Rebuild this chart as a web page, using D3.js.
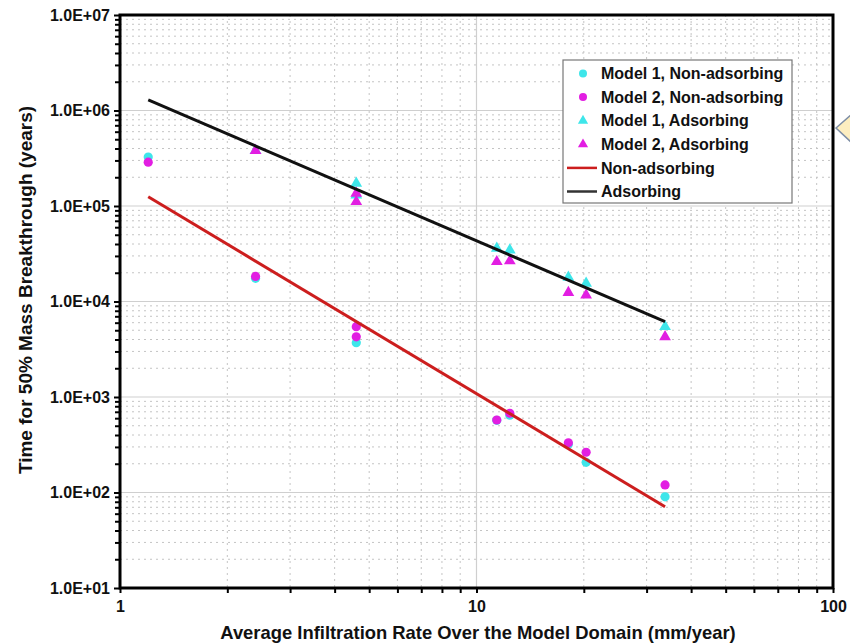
<!DOCTYPE html>
<html>
<head>
<meta charset="utf-8">
<script src="https://cdn.jsdelivr.net/npm/d3@7"></script>
<style>
  html, body { margin: 0; padding: 0; background: #fff; }
  svg { display: block; font-family: "Liberation Sans", Arial, sans-serif; font-weight: bold; }
</style>
</head>
<body>
<svg id="chart" width="850" height="644"></svg>
<script>
// Infiltration rate (mm/year) and time to 50% mass breakthrough (years)
const m1NonAdsRate = [1.2, 2.4, 4.6, 11.4, 12.4, 18.1, 20.3, 33.8];
const m1NonAdsTime = [3.25e5, 1.75e4, 3.7e3, 570, 645, 320, 207, 90];

const m2NonAdsRate = [1.2, 2.4, 4.6, 4.6, 11.4, 12.4, 18.1, 20.3, 33.8];
const m2NonAdsTime = [2.88e5, 1.83e4, 5.45e3, 4.27e3, 574, 676, 331, 264, 120];

const m1AdsRate = [2.4, 4.6, 4.6, 11.4, 12.4, 18.1, 20.3, 33.8];
const m1AdsTime = [3.8e5, 1.73e5, 1.3e5, 3.6e4, 3.46e4, 1.79e4, 1.55e4, 5.45e3];

const m2AdsRate = [2.4, 4.6, 4.6, 11.4, 12.4, 18.1, 20.3, 33.8];
const m2AdsTime = [3.8e5, 1.36e5, 1.11e5, 2.61e4, 2.66e4, 1.24e4, 1.17e4, 4.27e3];

// Power-law fit lines (end points)
const fitNonAdsRate = [1.2, 33.8];
const fitNonAdsTime = [1.25e5, 71];
const fitAdsRate = [1.2, 33.8];
const fitAdsTime = [1.29e6, 6.15e3];

const yTickValues = [1e1, 1e2, 1e3, 1e4, 1e5, 1e6, 1e7];
const yTickLabels = ["1.0E+01", "1.0E+02", "1.0E+03", "1.0E+04", "1.0E+05", "1.0E+06", "1.0E+07"];
const xTickValues = [1, 10, 100];
const xTickLabels = ["1", "10", "100"];

const legendLabels = ["Model 1, Non-adsorbing", "Model 2, Non-adsorbing", "Model 1, Adsorbing",
                      "Model 2, Adsorbing", "Non-adsorbing", "Adsorbing"];

const xTitle = "Average Infiltration Rate Over the Model Domain (mm/year)";
const yTitle = "Time for 50% Mass Breakthrough (years)";

const CYAN = "#3ee6ea", MAGENTA = "#e21ee2", RED = "#cc1e1e", BLACK = "#111";

const svg = d3.select("#chart");
const margin = {left: 120, top: 15, right: 17, bottom: 56};
const W = 850 - margin.left - margin.right;
const H = 644 - margin.top - margin.bottom;

const x = d3.scaleLog().domain([1, 100]).range([0, W]);
const y = d3.scaleLog().domain([10, 1e7]).range([H, 0]);

const g = svg.append("g").attr("transform", `translate(${margin.left},${margin.top})`);

// minor values between decades
const minorX = [];
for (let d = 1; d < 100; d *= 10) for (let k = 2; k <= 9; k++) minorX.push(d * k);
const minorY = [];
for (let d = 10; d < 1e7; d *= 10) for (let k = 2; k <= 9; k++) minorY.push(d * k);

// grid
const grid = g.append("g");
grid.selectAll(".mgx").data(minorX).join("line")
  .attr("x1", d => x(d)).attr("x2", d => x(d)).attr("y1", 0).attr("y2", H)
  .attr("stroke", "#c4c4c4").attr("stroke-dasharray", "2,4").attr("stroke-width", 1);
grid.selectAll(".mgy").data(minorY).join("line")
  .attr("y1", d => y(d)).attr("y2", d => y(d)).attr("x1", 0).attr("x2", W)
  .attr("stroke", "#c4c4c4").attr("stroke-dasharray", "2,4").attr("stroke-width", 1);
grid.selectAll(".Mgx").data([10]).join("line")
  .attr("x1", d => x(d)).attr("x2", d => x(d)).attr("y1", 0).attr("y2", H)
  .attr("stroke", "#cfcfcf").attr("stroke-width", 1.2);
grid.selectAll(".Mgy").data(yTickValues.slice(1, -1)).join("line")
  .attr("y1", d => y(d)).attr("y2", d => y(d)).attr("x1", 0).attr("x2", W)
  .attr("stroke", "#cfcfcf").attr("stroke-width", 1.2);

// axes
const yAxis = d3.axisLeft(y).tickValues(yTickValues)
  .tickFormat((d, i) => yTickLabels[i]).tickSize(6).tickPadding(4);
const yAxisMinor = d3.axisLeft(y).tickValues(minorY).tickFormat("").tickSize(5);
const xAxis = d3.axisBottom(x).tickValues(xTickValues)
  .tickFormat((d, i) => xTickLabels[i]).tickSize(5).tickPadding(8);
const xAxisMinor = d3.axisBottom(x).tickValues(minorX).tickFormat("").tickSize(5);

function styleAxis(sel) {
  sel.select(".domain").remove();
  sel.selectAll(".tick line").attr("stroke", "#000").attr("stroke-width", 2);
  sel.selectAll(".tick text").attr("fill", "#111").attr("font-size", 16)
    .attr("font-weight", "bold").attr("font-family", "Liberation Sans, Arial, sans-serif");
}
g.append("g").call(yAxisMinor).call(styleAxis);
g.append("g").call(yAxis).call(styleAxis);
g.append("g").attr("transform", `translate(0,${H})`).call(xAxisMinor).call(styleAxis);
g.append("g").attr("transform", `translate(0,${H})`).call(xAxis).call(styleAxis);

// frame
g.append("rect").attr("x", 0).attr("y", 0).attr("width", W).attr("height", H)
  .attr("fill", "none").attr("stroke", "#000").attr("stroke-width", 3);

// markers
const triangle = d3.symbol().type(d3.symbolTriangle).size(60);
function circles(rates, times, color) {
  g.append("g").selectAll("circle").data(rates.map((r, i) => [r, times[i]])).join("circle")
    .attr("cx", d => x(d[0])).attr("cy", d => y(d[1])).attr("r", 4.6).attr("fill", color);
}
function triangles(rates, times, color) {
  g.append("g").selectAll("path").data(rates.map((r, i) => [r, times[i]])).join("path")
    .attr("d", triangle)
    .attr("transform", d => `translate(${x(d[0])},${y(d[1])})`).attr("fill", color);
}
circles(m1NonAdsRate, m1NonAdsTime, CYAN);
circles(m2NonAdsRate, m2NonAdsTime, MAGENTA);
triangles(m1AdsRate, m1AdsTime, CYAN);
triangles(m2AdsRate, m2AdsTime, MAGENTA);

// fit lines
const line = d3.line().x(d => x(d[0])).y(d => y(d[1]));
g.append("path").datum(fitNonAdsRate.map((r, i) => [r, fitNonAdsTime[i]]))
  .attr("d", line).attr("fill", "none").attr("stroke", RED).attr("stroke-width", 3);
g.append("path").datum(fitAdsRate.map((r, i) => [r, fitAdsTime[i]]))
  .attr("d", line).attr("fill", "none").attr("stroke", BLACK).attr("stroke-width", 3);

// legend
const lg = svg.append("g").attr("transform", "translate(563,60)");
lg.append("rect").attr("x", 0).attr("y", 0).attr("width", 229).attr("height", 143)
  .attr("fill", "#fff").attr("stroke", "#777").attr("stroke-width", 1.2);
const rowH = 23.6;
const items = [
  {type: "circle", color: CYAN}, {type: "circle", color: MAGENTA},
  {type: "tri", color: CYAN}, {type: "tri", color: MAGENTA},
  {type: "line", color: RED}, {type: "line", color: "#333"}
];
items.forEach((it, i) => {
  const cy = 13.5 + i * rowH;
  if (it.type === "circle") {
    lg.append("circle").attr("cx", 20).attr("cy", cy).attr("r", 4).attr("fill", it.color);
  } else if (it.type === "tri") {
    lg.append("path").attr("d", d3.symbol().type(d3.symbolTriangle).size(45))
      .attr("transform", `translate(20,${cy})`).attr("fill", it.color);
  } else {
    lg.append("line").attr("x1", 4).attr("x2", 34).attr("y1", cy).attr("y2", cy)
      .attr("stroke", it.color).attr("stroke-width", 2.5);
  }
  lg.append("text").attr("x", 38).attr("y", cy).attr("dy", "0.36em")
    .attr("font-size", 16).attr("fill", "#111").text(legendLabels[i]);
});

// axis titles
svg.append("text").attr("x", 478).attr("y", 639)
  .attr("text-anchor", "middle").attr("font-size", 18.4).attr("fill", "#111").text(xTitle);
svg.append("text").attr("transform", "translate(32,290) rotate(-90)")
  .attr("text-anchor", "middle").attr("font-size", 19).attr("fill", "#111").text(yTitle);

// callout pointer at right edge
svg.append("path").attr("d", "M836,128 L852,114 L852,143 Z")
  .attr("fill", "#fdeec0").attr("stroke", "#7f8fa6").attr("stroke-width", 1.5);
</script>
</body>
</html>
